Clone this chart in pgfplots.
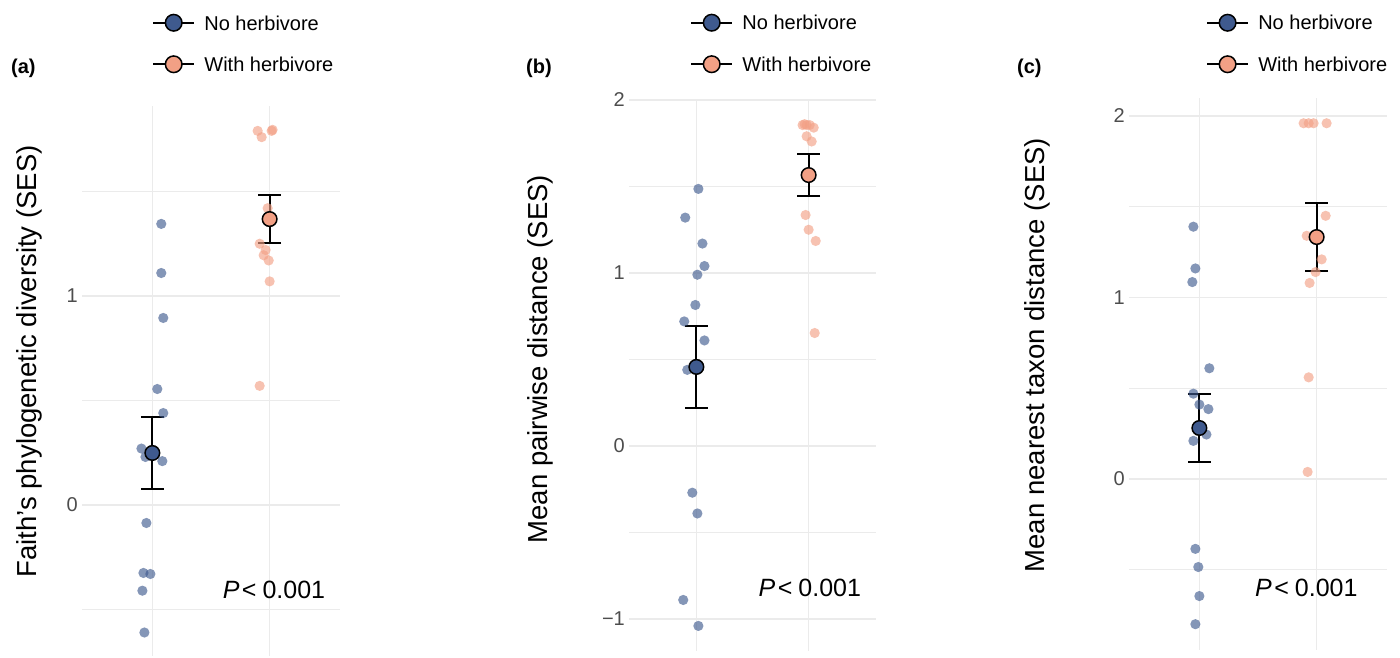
\documentclass[border=0pt]{standalone}
\usepackage{fontspec}
\setmainfont{Liberation Sans}
\usepackage{pgfplots}
\pgfplotsset{compat=1.18}

\definecolor{bluec}{HTML}{3F5A8E}
\definecolor{orac}{HTML}{F2A085}
\definecolor{gridc}{HTML}{EBEBEB}
\definecolor{tickc}{HTML}{4D4D4D}

\pgfplotsset{
  panel/.style={
    scale only axis, xmin=0.4, xmax=2.6,
    xtick={1,2}, xticklabels={,,},
    axis line style={draw=none},
    major tick length=0pt, minor tick length=0pt,
    xmajorgrids, ymajorgrids, yminorgrids,
    major grid style={gridc, line width=1.3pt},
    minor grid style={gridc, line width=0.9pt},
    yticklabel style={font=\fontsize{20}{24}\selectfont, text=tickc,
      anchor=east, inner sep=0pt, xshift=-4pt},
    legend style={draw=none, fill=none, inner sep=0pt, anchor=west,
      row sep=23.4pt, cells={anchor=west},
      nodes={inner sep=1pt, text depth=0pt},
      font=\fontsize{20}{24}\selectfont},
  },
  jit/.style={only marks, mark=*, mark size=5.1pt, color=#1,
    mark options={fill=#1, draw opacity=0, line width=0pt, fill opacity=0.64},
    forget plot},
  avg/.style={only marks, mark=*, mark size=7.3pt, color=black,
    line width=2pt,
    mark options={draw=black, line width=1.5pt, fill=#1}, forget plot,
    error bars/.cd, y dir=both, y explicit,
    error bar style={black, line width=2pt},
    error mark options={black, rotate=90, line width=2pt, mark size=11.5pt}},
  key/.style={legend image code/.code={
    \draw[black, line width=2pt] (0pt,0pt) -- (41pt,0pt);
    \draw[black, line width=1.5pt, fill=#1] (20.5pt,0pt) circle (8.3pt);
    \path (50pt,0pt);}},
}

\newcommand{\pval}{\textit{P}\hspace{2.5pt}<\hspace{6pt}0.001}

\begin{document}
\begin{tikzpicture}
\path[use as bounding box] (0pt,0pt) rectangle (1400pt,657pt);

% (a) Faith's PD
\begin{axis}[panel, at={(82pt,1.5pt)}, anchor=south west,
  width=258pt, height=549.7pt, ymin=-0.72, ymax=1.91,
  ytick={0,1}, yticklabels={0,1}, minor ytick={-0.5,0.5,1.5},
  ylabel={Faith’s phylogenetic diversity (SES)},
  ylabel style={at={(axis description cs:-0.205,0.535)}, anchor=center,
    font=\fontsize{27.5}{32}\selectfont},
  legend style={at={(axis description cs:0.2713,1.1133)}}]
\addplot[jit=bluec] coordinates {
  (1.076,1.345) (1.076,1.11) (1.093,0.895) (1.042,0.555) (1.093,0.44)
  (0.907,0.27) (0.941,0.23) (1.085,0.21) (0.949,-0.086) (0.924,-0.325)
  (0.983,-0.33) (0.915,-0.41) (0.932,-0.61)};
\addplot[jit=orac] coordinates {
  (1.898,1.79) (1.932,1.76) (2.017,1.79) (2.025,1.795) (1.983,1.42)
  (2.0,1.38) (1.915,1.25) (1.966,1.22) (1.949,1.195) (1.992,1.17)
  (2.0,1.07) (1.915,0.57)};
\addplot[avg=bluec] coordinates {(1,0.249) +- (0,0.173)};
\addplot[avg=orac] coordinates {(2,1.368) +- (0,0.115)};
\addlegendimage{key=bluec}
\addlegendentry{No herbivore}
\addlegendimage{key=orac}
\addlegendentry{With herbivore}
\node[anchor=east, inner sep=0pt, font=\fontsize{25}{30}\selectfont]
  at (axis cs:2.475,-0.407) {\pval};
\end{axis}

% (b) MPD
\begin{axis}[panel, at={(629pt,6pt)}, anchor=south west,
  width=247pt, height=551.9pt, ymin=-1.185, ymax=2.005,
  ytick={-1,0,1,2}, yticklabels={−1,0,1,2}, minor ytick={-0.5,0.5,1.5},
  ylabel={Mean pairwise distance (SES)},
  ylabel style={at={(axis description cs:-0.36,0.529)}, anchor=center,
    font=\fontsize{27.5}{32}\selectfont},
  legend style={at={(axis description cs:0.247,1.1008)}}]
\addplot[jit=bluec] coordinates {
  (1.018,1.486) (0.901,1.32) (1.054,1.17) (1.072,1.04) (1.009,0.99)
  (0.991,0.815) (0.892,0.72) (1.072,0.61) (0.919,0.44) (0.964,-0.27)
  (1.009,-0.39) (0.883,-0.89) (1.018,-1.04)};
\addplot[jit=orac] coordinates {
  (1.946,1.855) (1.982,1.855) (2.009,1.855) (1.964,1.86) (2.045,1.84)
  (1.982,1.79) (2.027,1.76) (1.973,1.335) (2.0,1.25) (2.063,1.185)
  (2.054,0.653)};
\addplot[avg=bluec] coordinates {(1,0.457) +- (0,0.235)};
\addplot[avg=orac] coordinates {(2,1.566) +- (0,0.122)};
\addlegendimage{key=bluec}
\addlegendentry{No herbivore}
\addlegendimage{key=orac}
\addlegendentry{With herbivore}
\node[anchor=east, inner sep=0pt, font=\fontsize{25}{30}\selectfont]
  at (axis cs:2.468,-0.821) {\pval};
\end{axis}

% (c) MNTD
\begin{axis}[panel, at={(1129pt,7.4pt)}, anchor=south west,
  width=258pt, height=551.4pt, ymin=-0.94, ymax=2.098,
  ytick={0,1,2}, yticklabels={0,1,2}, minor ytick={-0.5,0.5,1.5},
  ylabel={Mean nearest taxon distance (SES)},
  ylabel style={at={(axis description cs:-0.357,0.534)}, anchor=center,
    font=\fontsize{27.5}{32}\selectfont},
  legend style={at={(axis description cs:0.298,1.0992)}}]
\addplot[jit=bluec] coordinates {
  (0.949,1.39) (0.966,1.16) (0.940,1.085) (1.085,0.61) (0.949,0.47)
  (1.0,0.41) (1.077,0.385) (1.060,0.245) (0.949,0.21) (0.966,-0.385)
  (0.991,-0.485) (1.0,-0.645) (0.966,-0.80)};
\addplot[jit=orac] coordinates {
  (1.889,1.96) (1.932,1.96) (1.974,1.96) (2.085,1.96) (2.077,1.45)
  (1.915,1.34) (2.043,1.21) (1.991,1.14) (1.940,1.08) (1.932,0.56)
  (1.923,0.039)};
\addplot[avg=bluec] coordinates {(1,0.281) +- (0,0.19)};
\addplot[avg=orac] coordinates {(2,1.333) +- (0,0.187)};
\addlegendimage{key=bluec}
\addlegendentry{No herbivore}
\addlegendimage{key=orac}
\addlegendentry{With herbivore}
\node[anchor=east, inner sep=0pt, font=\fontsize{25}{30}\selectfont]
  at (axis cs:2.35,-0.60) {\pval};
\end{axis}

\node[anchor=west, inner sep=0pt, font=\fontsize{20}{24}\selectfont\bfseries]
  at (11pt,588.5pt) {(a)};
\node[anchor=west, inner sep=0pt, font=\fontsize{20}{24}\selectfont\bfseries]
  at (526pt,588.5pt) {(b)};
\node[anchor=west, inner sep=0pt, font=\fontsize{20}{24}\selectfont\bfseries]
  at (1017pt,588.5pt) {(c)};
\end{tikzpicture}
\end{document}
